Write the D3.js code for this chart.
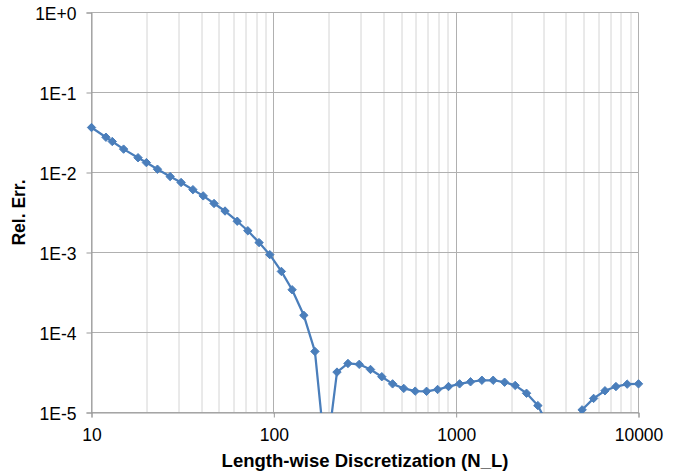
<!DOCTYPE html>
<html><head><meta charset="utf-8">
<script src="https://cdn.jsdelivr.net/npm/d3@7"></script>
<style>
html,body{margin:0;padding:0;background:#fff;}
text{font-family:"Liberation Sans",Arial,Helvetica,sans-serif;fill:#000;}
</style></head>
<body><svg id="chart" width="689" height="473"></svg>
<script>
const nL = [10,12,13,15,18,20,23,27,31,36,41,47,54,63,72,83,95,110,126,146,168,193,222,255,294,339,391,448,516,596,688,791,908,1044,1199,1384,1596,1843,2107,2432,2806,3200,3690,4260,4909,5675,6547,7520,8670,10000];
const relErr = [0.0365,0.0276,0.0244,0.0196,0.0153,0.0133,0.0110,0.0089,0.0075,0.0061,0.0051,0.0041,0.0033,0.00246,0.00187,0.00133,0.00094,0.00058,0.000342,0.000164,0.000058,0.0000025,0.000032,0.000041,0.000040,0.0000345,0.000028,0.0000228,0.0000200,0.0000185,0.0000184,0.0000194,0.0000211,0.0000228,0.0000242,0.0000253,0.0000253,0.0000239,0.0000218,0.0000174,0.0000122,0.0000068,0.0000015,0.0000052,0.0000108,0.0000150,0.0000187,0.0000211,0.0000226,0.0000228];
const yTickValues = [1,1e-1,1e-2,1e-3,1e-4,1e-5];
const yTickLabels = ["1E+0","1E-1","1E-2","1E-3","1E-4","1E-5"];
const xTickValues = [10,100,1000,10000];
const xTickLabels = ["10","100","1000","10000"];
const xTitle = "Length-wise Discretization (N_L)";
const yTitle = "Rel. Err.";

const W = 689, H = 473;
const m = {left: 91.5, top: 12.5, right: 50.5, bottom: 60.5};
const iw = W - m.left - m.right, ih = H - m.top - m.bottom;
const svg = d3.select("#chart");
const g = svg.append("g").attr("transform", `translate(${m.left},${m.top})`);
const x = d3.scaleLog().domain([10,10000]).range([0, iw]);
const y = d3.scaleLog().domain([1e-5,1]).range([ih, 0]);

// minor vertical gridlines
const minor = [];
for (let d = 10; d < 10000; d *= 10) for (let k = 2; k <= 9; k++) minor.push(d*k);
g.append("g").selectAll("line").data(minor).join("line")
  .attr("x1", d => Math.round(x(d))+0.5).attr("x2", d => Math.round(x(d))+0.5)
  .attr("y1", 0).attr("y2", ih).attr("stroke", "#d4d4d4").attr("stroke-width", 1);
// major vertical gridlines
g.append("g").selectAll("line").data(xTickValues).join("line")
  .attr("x1", d => Math.round(x(d))).attr("x2", d => Math.round(x(d)))
  .attr("y1", 0).attr("y2", ih + 1).attr("stroke", "#b0b0b0").attr("stroke-width", 1);
// major horizontal gridlines
g.append("g").selectAll("line").data(yTickValues).join("line")
  .attr("x1", 0).attr("x2", iw)
  .attr("y1", d => Math.round(y(d))).attr("y2", d => Math.round(y(d)))
  .attr("stroke", "#b0b0b0").attr("stroke-width", 1);

// axes
const yAxis = d3.axisLeft(y).tickValues(yTickValues).tickFormat((d,i) => yTickLabels[i]).tickSize(5).tickPadding(10);
const ya = g.append("g").call(yAxis);
ya.select(".domain").attr("stroke", "#9a9a9a");
ya.selectAll(".tick line").attr("stroke", "#9a9a9a");
ya.selectAll("text").attr("font-size", 17.5).attr("dy", "0.4em").style("font-family", "'Liberation Sans',Arial,sans-serif");

const xAxis = d3.axisBottom(x).tickValues(xTickValues).tickFormat((d,i) => xTickLabels[i]).tickSize(5).tickPadding(11);
const xa = g.append("g").attr("transform", `translate(0,${ih})`).call(xAxis);
xa.select(".domain").attr("stroke", "#9a9a9a");
xa.selectAll(".tick line").attr("stroke", "#9a9a9a");
xa.selectAll("text").attr("font-size", 17.5).style("font-family", "'Liberation Sans',Arial,sans-serif");

// clip
svg.append("defs").append("clipPath").attr("id", "clip")
  .append("rect").attr("x", -10).attr("y", -10).attr("width", iw + 20).attr("height", ih + 10.5);

const pts = nL.map((v,i) => [v, relErr[i]]);
const plot = g.append("g").attr("clip-path", "url(#clip)");
plot.append("path").datum(pts)
  .attr("fill", "none").attr("stroke", "#4a7ebb").attr("stroke-width", 2.25)
  .attr("stroke-linejoin", "round")
  .attr("d", d3.line().x(d => x(d[0])).y(d => y(d[1])));
const r = 4.2;
const diamondPath = `M0,${-r}L${r},0L0,${r}L${-r},0Z`;
plot.selectAll(".mk").data(pts.filter(d => y(d[1]) <= ih + 1)).join("path")
  .attr("class", "mk")
  .attr("transform", d => `translate(${x(d[0])},${y(d[1])})`)
  .attr("d", diamondPath).attr("fill", "#4a7ebb").attr("stroke", "#4a7ebb").attr("stroke-width", 1);

// titles
g.append("text").attr("x", iw/2).attr("y", ih + 54).attr("text-anchor", "middle")
  .attr("font-size", 18.5).attr("font-weight", "bold").text(xTitle);
svg.append("text").attr("transform", `translate(25,${m.top + ih/2}) rotate(-90)`)
  .attr("text-anchor", "middle").attr("font-size", 17.5).attr("font-weight", "bold").text(yTitle);
</script></body></html>
